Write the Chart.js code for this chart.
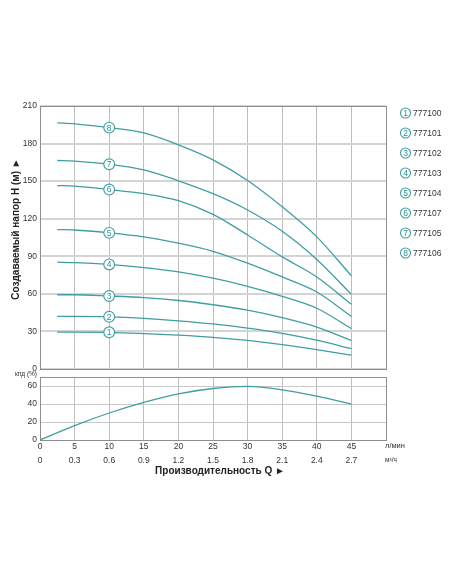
<!DOCTYPE html>
<html>
<head>
<meta charset="utf-8">
<script src="https://cdn.jsdelivr.net/npm/chart.js@4"></script>
<style>
  html, body { margin: 0; padding: 0; background: #fff; }
  #wrap { position: relative; width: 452px; height: 584px; }
  #wrap canvas { position: absolute; left: 0; top: 0; }
</style>
</head>
<body>
<div id="wrap">
  <canvas id="headChart" width="452" height="584"></canvas>
  <canvas id="effChart" width="452" height="584"></canvas>
</div>
<script>
'use strict';

// ── Data ──────────────────────────────────────────────────
const FLOW = [2.5, 5, 10, 15, 20, 25, 30, 35, 40, 45];          // л/мин
const H_777100 = [29.5, 29.5, 29.3, 28.3, 27, 25.3, 22.8, 19.5, 15.5, 11];
const H_777101 = [42, 42, 41.7, 40.5, 38.5, 36, 32.7, 28.5, 23, 16.2];
const H_777102 = [59.3, 59.3, 58.3, 57, 54.7, 51.3, 47, 41, 33.5, 22.7];
const H_777103 = [85.3, 85, 83.5, 81, 77.5, 72.5, 66, 58, 48.5, 32.2];
const H_777104 = [111.3, 111, 108.7, 105.5, 100.5, 94, 84.5, 73.5, 61.5, 42];
const H_777107 = [146.5, 146, 143.3, 140, 134.5, 123.5, 107, 89.5, 73.5, 51.7];
const H_777105 = [166.5, 166, 163.5, 159, 150.3, 140, 127, 110, 87.5, 59.6];
const H_777106 = [196.5, 195.8, 192.7, 188.5, 179, 167, 150.5, 129.5, 105.5, 74.4];

const MODELS = ['777100', '777101', '777102', '777103', '777104', '777107', '777105', '777106'];
const HEADS  = [H_777100, H_777101, H_777102, H_777103, H_777104, H_777107, H_777105, H_777106];
const MARK_AT = 10;   // curve number markers sit at Q = 10 л/мин

const EFF_FLOW = [0, 5, 10, 15, 20, 25, 30, 35, 40, 45];
const EFF      = [0, 16, 30, 41.8, 51.3, 57.2, 59.5, 55.8, 48.7, 40];

const TICK_LMIN = ['0', '5', '10', '15', '20', '25', '30', '35', '40', '45'];
const TICK_M3H  = ['0', '0.3', '0.6', '0.9', '1.2', '1.5', '1.8', '2.1', '2.4', '2.7'];

// ── Style ─────────────────────────────────────────────────
const TEAL = '#3f9ea3';
const FONT = "'Liberation Sans', Arial, sans-serif";
Chart.defaults.font.family = FONT;
Chart.defaults.color = '#333';
Chart.defaults.animation = false;

const frame = {
    id: 'frame',
    afterDraw(chart) {
        const { ctx, chartArea: a } = chart;
        ctx.save();
        ctx.strokeStyle = '#8e8e8e';
        ctx.lineWidth = 1;
        ctx.strokeRect(a.left + 0.5, a.top + 0.5, a.right - a.left, a.bottom - a.top);
        ctx.restore();
    }
};

function circled(ctx, x, y, r, num, size) {
    ctx.beginPath();
    ctx.arc(x, y, r, 0, Math.PI * 2);
    ctx.fillStyle = '#fff';
    ctx.fill();
    ctx.strokeStyle = TEAL;
    ctx.lineWidth = 1.1;
    ctx.stroke();
    ctx.fillStyle = '#2f8d92';
    ctx.font = size + 'px ' + FONT;
    ctx.textAlign = 'center';
    ctx.textBaseline = 'middle';
    ctx.fillText(String(num), x, y + 0.5);
}

// numbers on the curves + legend at the right + axis title
const headDecor = {
    id: 'headDecor',
    afterDatasetsDraw(chart) {
        const ctx = chart.ctx;
        ctx.save();
        chart.data.datasets.forEach((ds, i) => {
            const pt = chart.getDatasetMeta(i).data[FLOW.indexOf(MARK_AT)];
            circled(ctx, pt.x, pt.y, 5.4, i + 1, 8.5);
        });
        ctx.restore();
    },
    afterDraw(chart) {
        const ctx = chart.ctx;
        ctx.save();
        MODELS.forEach((m, i) => {
            const y = 113 + i * 20;
            circled(ctx, 405.5, y, 5, i + 1, 8.5);
            ctx.fillStyle = '#333';
            ctx.font = '8.5px ' + FONT;
            ctx.textAlign = 'left';
            ctx.fillText(m, 413, y + 0.5);
        });
        ctx.translate(16, 229);
        ctx.rotate(-Math.PI / 2);
        ctx.font = 'bold 10px ' + FONT;
        ctx.fillStyle = '#222';
        ctx.textAlign = 'center';
        ctx.textBaseline = 'middle';
        ctx.fillText('Создаваемый напор H (м) ►', 0, 0);
        ctx.restore();
    }
};

const effDecor = {
    id: 'effDecor',
    afterDraw(chart) {
        const ctx = chart.ctx;
        ctx.save();
        ctx.fillStyle = '#333';
        ctx.textBaseline = 'middle';
        ctx.font = '6.5px ' + FONT;
        ctx.textAlign = 'right';
        ctx.fillText('кпд (%)', 37, 374);
        ctx.textAlign = 'left';
        ctx.font = '7.5px ' + FONT;
        ctx.fillText('л/мин', 385, 446);
        ctx.font = '6.5px ' + FONT;
        ctx.fillText('м³/ч', 385, 460);
        ctx.font = 'bold 10px ' + FONT;
        ctx.fillStyle = '#222';
        ctx.textAlign = 'center';
        ctx.fillText('Производительность Q ►', 220, 471);
        ctx.restore();
    }
};

// ── Head curves ───────────────────────────────────────────
new Chart(document.getElementById('headChart'), {
    type: 'line',
    data: {
        datasets: HEADS.map((h, i) => ({
            label: MODELS[i],
            data: FLOW.map((q, k) => ({ x: q, y: h[k] })),
            borderColor: TEAL,
            borderWidth: 1.3,
            cubicInterpolationMode: 'monotone',
            pointRadius: 0,
            fill: false,
        }))
    },
    options: {
        responsive: false,
        layout: { padding: { top: 106, right: 66, bottom: 215, left: 0 } },
        plugins: { legend: { display: false }, tooltip: { enabled: false } },
        scales: {
            x: {
                type: 'linear', min: 0, max: 50,
                ticks: { stepSize: 5, display: false },
                grid: { color: '#bdbdbd', lineWidth: 1, drawTicks: false },
                border: { display: false },
                afterFit: s => { s.height = 0; }
            },
            y: {
                min: 0, max: 210,
                ticks: { stepSize: 30, padding: 3, font: { size: 8.5 } },
                grid: { color: '#d4d4d4', lineWidth: 2, drawTicks: false },
                border: { display: false },
                afterFit: s => { s.width = 40; }
            }
        }
    },
    plugins: [frame, headDecor]
});

// ── Efficiency curve ──────────────────────────────────────
new Chart(document.getElementById('effChart'), {
    type: 'line',
    data: {
        datasets: [{
            label: 'кпд',
            data: EFF_FLOW.map((q, k) => ({ x: q, y: EFF[k] })),
            borderColor: TEAL,
            borderWidth: 1.3,
            cubicInterpolationMode: 'monotone',
            pointRadius: 0,
            fill: false,
        }]
    },
    options: {
        responsive: false,
        layout: { padding: { top: 377, right: 66, bottom: 104, left: 0 } },
        plugins: { legend: { display: false }, tooltip: { enabled: false } },
        scales: {
            x: {
                type: 'linear', min: 0, max: 50,
                ticks: {
                    stepSize: 5, autoSkip: false, maxRotation: 0, padding: 0,
                    font: { size: 8.5, lineHeight: 1.65 },
                    callback: v => {
                        const i = TICK_LMIN.indexOf(String(v));
                        return i < 0 ? '' : [TICK_LMIN[i], TICK_M3H[i]];
                    }
                },
                grid: { color: '#bdbdbd', lineWidth: 1, drawTicks: false },
                border: { display: false },
                afterFit: s => { s.height = 40; }
            },
            y: {
                min: 0, max: 70,
                ticks: {
                    stepSize: 10, padding: 3, font: { size: 8.5 },
                    callback: v => (v % 20 === 0 ? v : '')
                },
                grid: { color: '#c8c8c8', lineWidth: 1, drawTicks: false },
                border: { display: false },
                afterFit: s => { s.width = 40; }
            }
        }
    },
    plugins: [frame, effDecor]
});
</script>
</body>
</html>
